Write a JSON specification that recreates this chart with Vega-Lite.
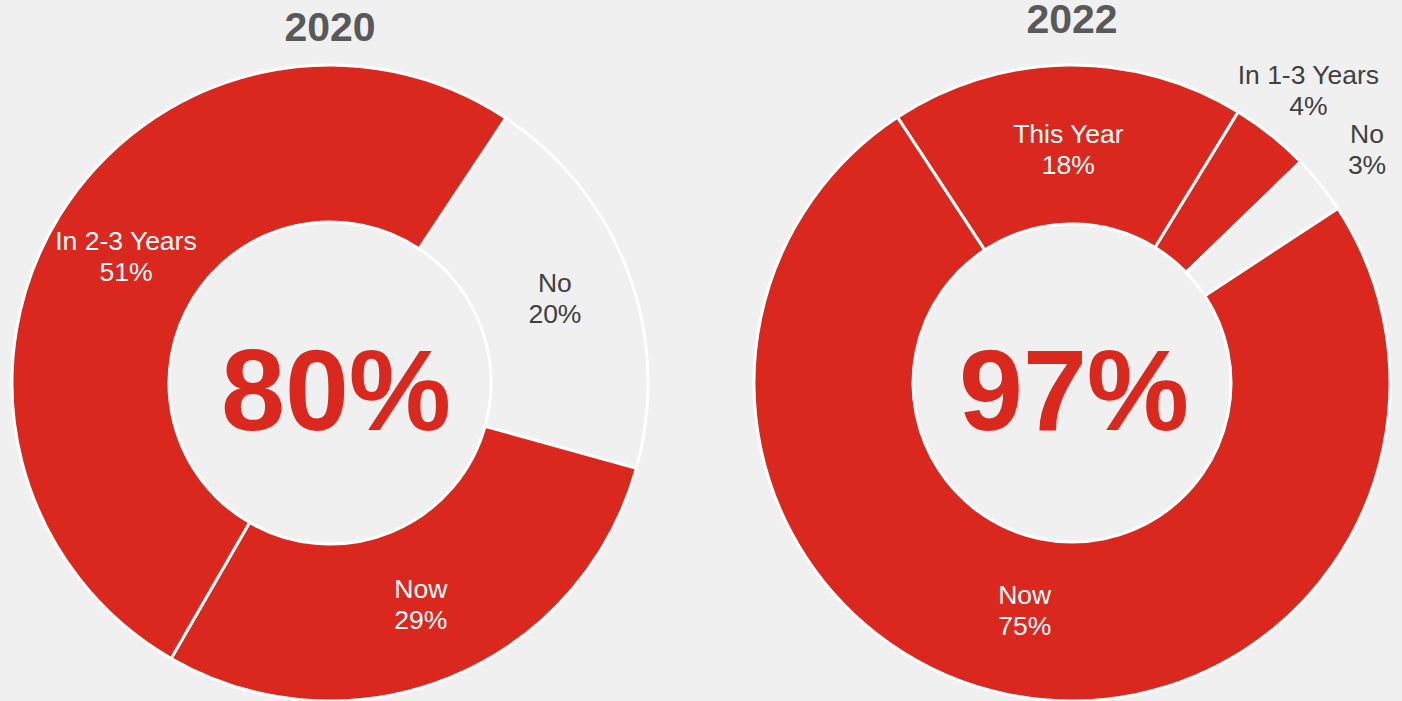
{
  "$schema": "https://vega.github.io/schema/vega-lite/v6.json",
  "padding": 0,
  "background": "#f0f0f0",
  "spacing": 82,
  "config": {
    "view": {"stroke": null},
    "font": "Liberation Sans",
    "title": {"font": "Liberation Sans", "fontSize": 41, "fontWeight": "bold", "color": "#595959", "anchor": "middle", "baseline": "bottom", "offset": 18}
  },
  "datasets": {
    "answers": [
      {"year": "2020", "answer": "No", "pct": 20, "seq": 1},
      {"year": "2020", "answer": "Now", "pct": 29, "seq": 2},
      {"year": "2020", "answer": "In 2-3 Years", "pct": 51, "seq": 3},
      {"year": "2022", "answer": "This Year", "pct": 18, "seq": 1},
      {"year": "2022", "answer": "In 1-3 Years", "pct": 4, "seq": 2},
      {"year": "2022", "answer": "No", "pct": 3, "seq": 3},
      {"year": "2022", "answer": "Now", "pct": 75, "seq": 4}
    ],
    "totals": [
      {"year": "2020", "total": "80%"},
      {"year": "2022", "total": "97%"}
    ]
  },
  "hconcat": [
    {
      "width": 660,
      "height": 642,
      "title": {"text": "2020", "dy": 9},
      "layer": [
        {
          "data": {"name": "answers"},
          "transform": [{"filter": "datum.year == '2020'"}],
          "mark": {"type": "arc", "innerRadius": 161, "outerRadius": 318, "stroke": "white", "strokeWidth": 3},
          "encoding": {
            "theta": {"field": "pct", "type": "quantitative", "stack": true, "scale": {"domain": [0, 100], "range": [0.586, 6.869]}},
            "order": {"field": "seq", "type": "quantitative"},
            "color": {"field": "answer", "type": "nominal", "scale": {"domain": ["No", "Now", "In 2-3 Years", "This Year", "In 1-3 Years"], "range": ["#f0f0f0", "#da281e", "#da281e", "#da281e", "#da281e"]}, "legend": null}
          }
        },
        {
          "data": {"name": "answers"},
          "transform": [{"filter": "datum.year == '2020'"}, {"calculate": "[datum.answer, datum.pct + '%']", "as": "label"}],
          "mark": {"type": "text", "radius": 240, "fontSize": 26.5, "lineHeight": 31, "baseline": "middle", "dy": -15},
          "encoding": {
            "theta": {"field": "pct", "type": "quantitative", "stack": true},
            "order": {"field": "seq", "type": "quantitative"},
            "detail": {"field": "answer"},
            "text": {"field": "label"},
            "color": {"condition": {"test": "datum.answer == 'No'", "value": "#404040"}, "value": "white"}
          }
        },
        {
          "data": {"name": "totals"},
          "transform": [{"filter": "datum.year == '2020'"}],
          "mark": {"type": "text", "fontSize": 115, "fontWeight": "bold", "color": "#da281e", "baseline": "middle", "dy": 12, "dx": 6},
          "encoding": {"text": {"field": "total"}}
        }
      ]
    },
    {
      "width": 660,
      "height": 642,
      "title": {"text": "2022", "dy": 1},
      "layer": [
        {
          "data": {"name": "answers"},
          "transform": [{"filter": "datum.year == '2022'"}],
          "mark": {"type": "arc", "innerRadius": 159, "outerRadius": 318, "stroke": "white", "strokeWidth": 3},
          "encoding": {
            "theta": {"field": "pct", "type": "quantitative", "stack": true, "scale": {"domain": [0, 100], "range": [-0.581, 5.702]}},
            "order": {"field": "seq", "type": "quantitative"},
            "color": {"field": "answer", "type": "nominal", "scale": {"domain": ["No", "Now", "In 2-3 Years", "This Year", "In 1-3 Years"], "range": ["#f0f0f0", "#da281e", "#da281e", "#da281e", "#da281e"]}, "legend": null}
          }
        },
        {
          "data": {"name": "answers"},
          "transform": [{"filter": "datum.year == '2022'"}, {"calculate": "datum.pct >= 10 ? [datum.answer, datum.pct + '%'] : ''", "as": "label"}],
          "mark": {"type": "text", "radius": 233, "fontSize": 26.5, "lineHeight": 31, "baseline": "middle", "dy": -15},
          "encoding": {
            "theta": {"field": "pct", "type": "quantitative", "stack": true},
            "order": {"field": "seq", "type": "quantitative"},
            "detail": {"field": "answer"},
            "text": {"field": "label"},
            "color": {"value": "white"}
          }
        },
        {
          "data": {"name": "answers"},
          "transform": [{"filter": "datum.year == '2022'"}, {"calculate": "datum.pct < 10 ? [datum.answer, datum.pct + '%'] : ''", "as": "label"}],
          "mark": {"type": "text", "radius": 378, "fontSize": 26.5, "lineHeight": 31, "baseline": "middle", "dy": -12, "clip": true},
          "encoding": {
            "theta": {"field": "pct", "type": "quantitative", "stack": true},
            "order": {"field": "seq", "type": "quantitative"},
            "detail": {"field": "answer"},
            "text": {"field": "label"},
            "color": {"value": "#404040"}
          }
        },
        {
          "data": {"name": "totals"},
          "transform": [{"filter": "datum.year == '2022'"}],
          "mark": {"type": "text", "fontSize": 115, "fontWeight": "bold", "color": "#da281e", "baseline": "middle", "dy": 12, "dx": 2},
          "encoding": {"text": {"field": "total"}}
        }
      ]
    }
  ]
}
